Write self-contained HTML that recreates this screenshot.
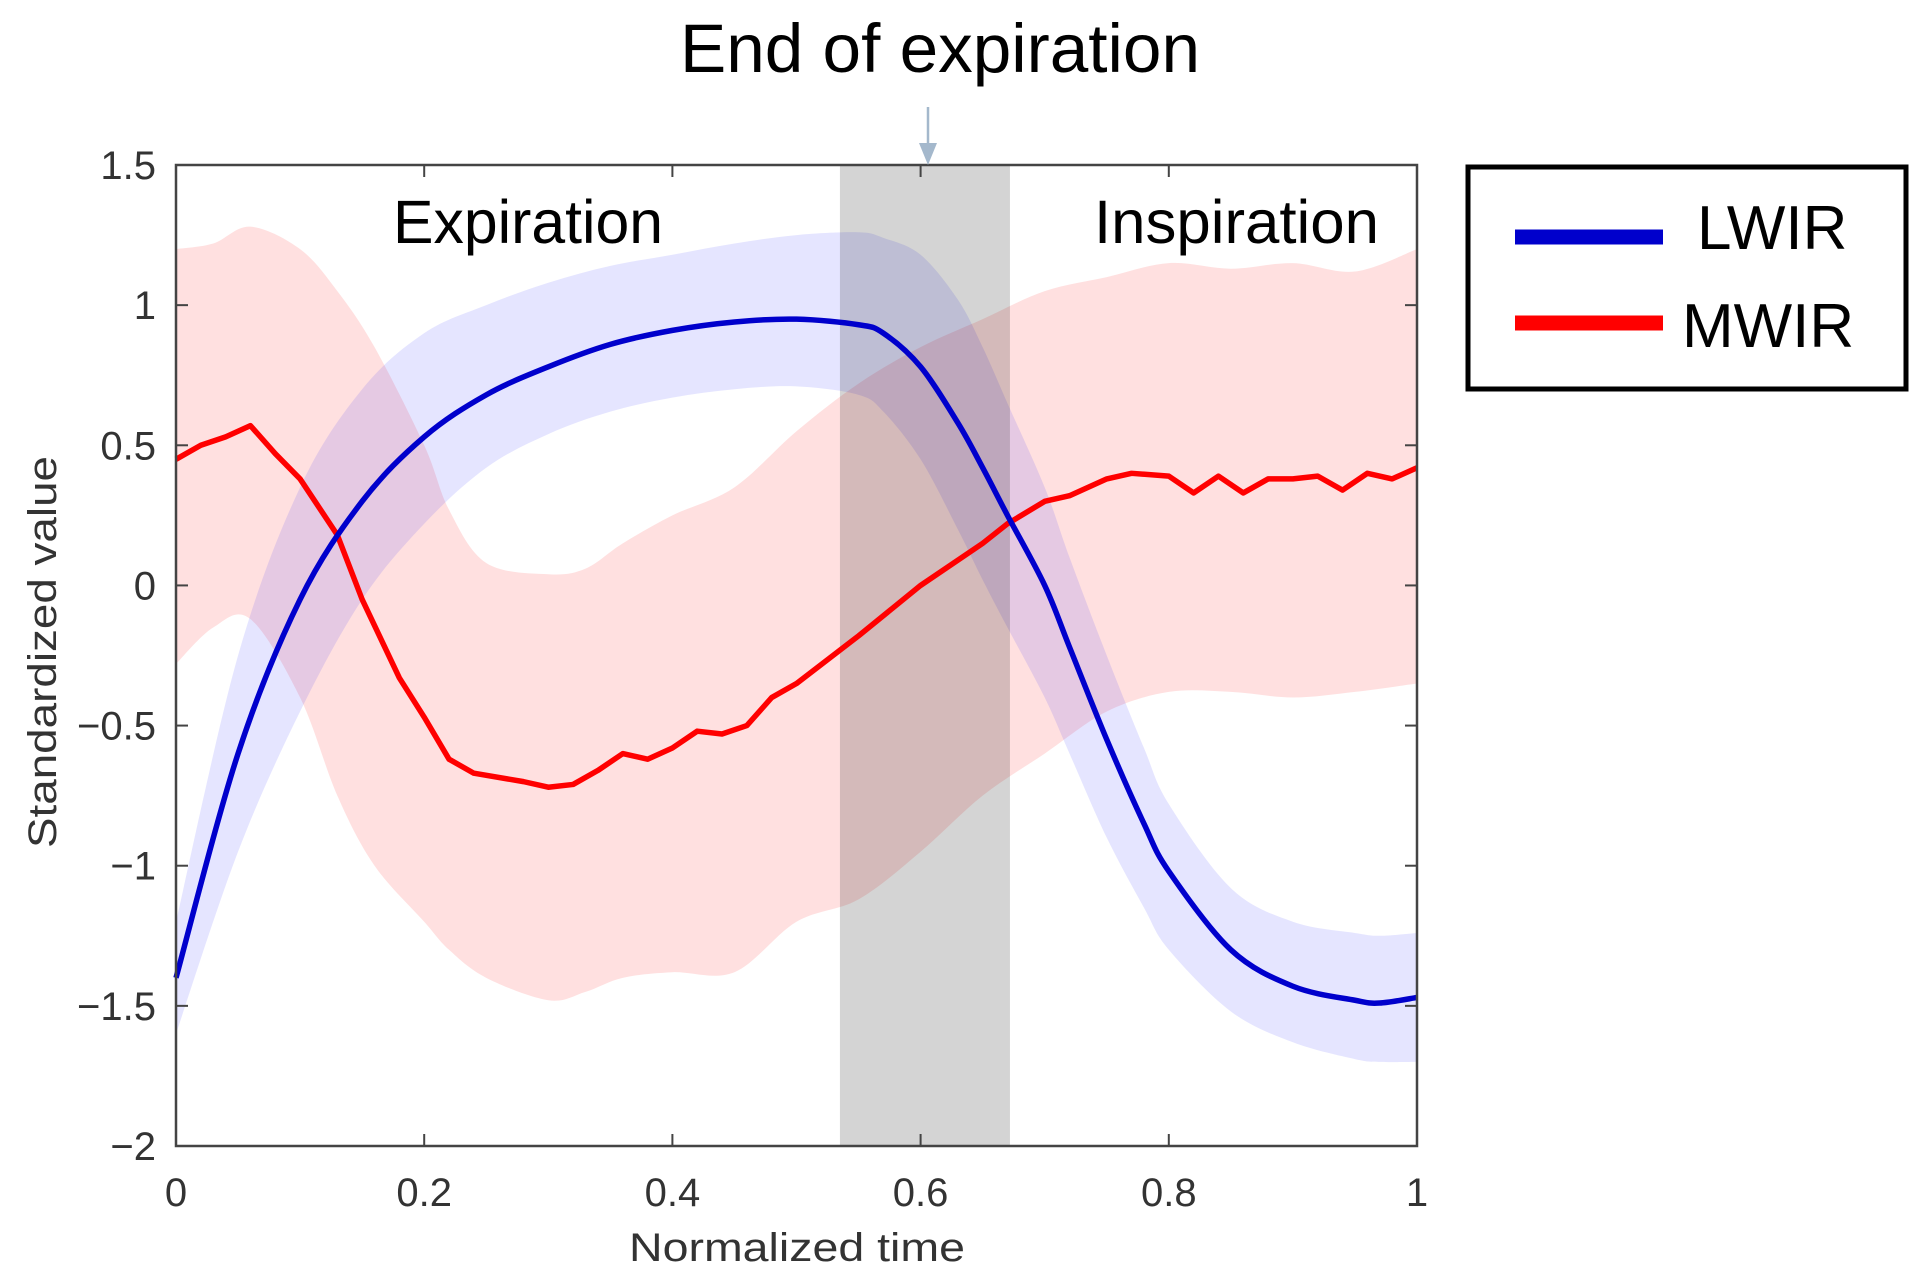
<!DOCTYPE html>
<html><head><meta charset="utf-8">
<style>
html,body{margin:0;padding:0;background:#fff;}
svg{display:block;font-family:"Liberation Sans",Arial,sans-serif;}
</style></head>
<body>
<svg id="chart" width="1927" height="1288" viewBox="0 0 1927 1288" xmlns="http://www.w3.org/2000/svg">
<g id="bands"></g>
<rect id="endband" fill="#000" fill-opacity="0.17"></rect>
<g id="lines"></g>
<g id="axes"></g>
<text x="940" y="72" font-size="69" text-anchor="middle" fill="#000" textLength="520" lengthAdjust="spacingAndGlyphs">End of expiration</text>
<line x1="928" y1="107" x2="928" y2="148" stroke="#a4b8cc" stroke-width="2.5"/>
<polygon points="919,143 937,143 928,165" fill="#a4b8cc"/>
<text x="393" y="243" font-size="61" fill="#000" textLength="270" lengthAdjust="spacingAndGlyphs">Expiration</text>
<text x="1094" y="243" font-size="61" fill="#000" textLength="285" lengthAdjust="spacingAndGlyphs">Inspiration</text>
<text transform="translate(56,652) rotate(-90)" font-size="40" text-anchor="middle" fill="#333" textLength="392" lengthAdjust="spacingAndGlyphs">Standardized value</text>
<text x="797" y="1261" font-size="40" text-anchor="middle" fill="#333" textLength="336" lengthAdjust="spacingAndGlyphs">Normalized time</text>
<g>
<rect x="1468" y="167" width="438" height="222" fill="#fff" stroke="#000" stroke-width="5"/>
<line x1="1515" y1="237" x2="1663" y2="237" stroke="#0000cc" stroke-width="15"/>
<text x="1697" y="249" font-size="62" fill="#000">LWIR</text>
<line x1="1515" y1="323" x2="1663" y2="323" stroke="#ff0000" stroke-width="15"/>
<text x="1682" y="347" font-size="62" fill="#000">MWIR</text>
</g>
</svg>
<script>
const blueX = [0,0.05,0.1,0.15,0.2,0.25,0.3,0.35,0.4,0.45,0.5,0.55,0.57,0.6,0.63,0.65,0.67,0.7,0.72,0.75,0.78,0.8,0.85,0.9,0.95,0.97,1];
const blueMean = [-1.4,-0.6,-0.05,0.3,0.53,0.68,0.78,0.86,0.91,0.94,0.95,0.93,0.9,0.78,0.58,0.42,0.25,0.0,-0.22,-0.55,-0.85,-1.02,-1.3,-1.43,-1.48,-1.49,-1.47];
const blueUpper = [-1.2,-0.25,0.35,0.7,0.9,1.0,1.08,1.14,1.18,1.22,1.25,1.26,1.24,1.18,1.02,0.85,0.65,0.35,0.1,-0.25,-0.58,-0.78,-1.08,-1.2,-1.24,-1.25,-1.24];
const blueLower = [-1.6,-0.95,-0.45,-0.05,0.22,0.42,0.54,0.62,0.67,0.7,0.71,0.68,0.62,0.45,0.2,0.02,-0.15,-0.4,-0.6,-0.9,-1.15,-1.3,-1.52,-1.63,-1.69,-1.7,-1.7];
const redX = [0,0.02,0.04,0.06,0.08,0.1,0.13,0.15,0.18,0.2,0.22,0.24,0.28,0.3,0.32,0.34,0.36,0.38,0.4,0.42,0.44,0.46,0.48,0.5,0.55,0.6,0.65,0.67,0.7,0.72,0.75,0.77,0.8,0.82,0.84,0.86,0.88,0.9,0.92,0.94,0.96,0.98,1];
const redMean = [0.45,0.5,0.53,0.57,0.47,0.38,0.18,-0.05,-0.33,-0.47,-0.62,-0.67,-0.7,-0.72,-0.71,-0.66,-0.6,-0.62,-0.58,-0.52,-0.53,-0.5,-0.4,-0.35,-0.18,0.0,0.15,0.22,0.3,0.32,0.38,0.4,0.39,0.33,0.39,0.33,0.38,0.38,0.39,0.34,0.4,0.38,0.42];
const redBandX = [0,0.03,0.06,0.1,0.13,0.16,0.2,0.22,0.25,0.3,0.33,0.36,0.4,0.45,0.5,0.55,0.6,0.65,0.7,0.75,0.8,0.85,0.9,0.95,1];
const redUpper = [1.2,1.22,1.28,1.2,1.05,0.85,0.5,0.27,0.08,0.04,0.06,0.15,0.25,0.35,0.55,0.72,0.85,0.95,1.05,1.1,1.15,1.13,1.15,1.12,1.2];
const redLower = [-0.28,-0.15,-0.12,-0.4,-0.75,-1.0,-1.2,-1.3,-1.4,-1.48,-1.45,-1.4,-1.38,-1.38,-1.2,-1.12,-0.95,-0.75,-0.6,-0.45,-0.38,-0.38,-0.4,-0.38,-0.35];
const xTicks = [0,0.2,0.4,0.6,0.8,1];
const xTickLabels = ["0","0.2","0.4","0.6","0.8","1"];
const yTicks = [1.5,1,0.5,0,-0.5,-1,-1.5,-2];
const yTickLabels = ["1.5","1","0.5","0","\u22120.5","\u22121","\u22121.5","\u22122"];
const endBand = [0.535,0.672];

const L=176,R=1417,T=165,B=1146;
const sx=v=>L+(v-0)/(1-0)*(R-L);
const sy=v=>T+(1.5-v)/(1.5+2)*(B-T);
const NS="http://www.w3.org/2000/svg";
function mk(tag,attrs,parent){const e=document.createElementNS(NS,tag);for(const k in attrs)e.setAttribute(k,attrs[k]);parent.appendChild(e);return e;}
function smooth(pts,move){
  let d=(move?"M":"L")+pts[0][0]+","+pts[0][1];
  for(let i=0;i<pts.length-1;i++){
    const p0=pts[Math.max(i-1,0)],p1=pts[i],p2=pts[i+1],p3=pts[Math.min(i+2,pts.length-1)];
    const c1=[p1[0]+(p2[0]-p0[0])/6,p1[1]+(p2[1]-p0[1])/6];
    const c2=[p2[0]-(p3[0]-p1[0])/6,p2[1]-(p3[1]-p1[1])/6];
    d+="C"+c1[0]+","+c1[1]+" "+c2[0]+","+c2[1]+" "+p2[0]+","+p2[1];
  }
  return d;
}
function bandPath(xs,up,lo){
  const u=xs.map((x,i)=>[sx(x),sy(up[i])]);
  const l=xs.map((x,i)=>[sx(x),sy(lo[i])]).reverse();
  return smooth(u,true)+smooth(l,false)+"Z";
}
const bands=document.getElementById('bands');
const rb=mk('path',{d:bandPath(redBandX,redUpper,redLower),fill:"#ff0000","fill-opacity":"0.12"},bands);


const bb=mk('path',{d:bandPath(blueX,blueUpper,blueLower),fill:"#0000ff","fill-opacity":"0.1"},bands);


const eb=document.getElementById('endband');
eb.setAttribute('x',sx(endBand[0]));eb.setAttribute('y',T);eb.setAttribute('width',sx(endBand[1])-sx(endBand[0]));eb.setAttribute('height',B-T);
const lines=document.getElementById('lines');
const rl=mk('polyline',{points:redX.map((x,i)=>sx(x)+","+sy(redMean[i])).join(" "),fill:"none",stroke:"#ff0000","stroke-width":"5.5","stroke-linejoin":"round"},lines);


const bl=mk('path',{d:smooth(blueX.map((x,i)=>[sx(x),sy(blueMean[i])]),true),fill:"none",stroke:"#0000cc","stroke-width":"5.5","stroke-linejoin":"round"},lines);


const axes=document.getElementById('axes');
const fr=mk('rect',{x:L,y:T,width:R-L,height:B-T,fill:"none",stroke:"#444","stroke-width":"2.5"},axes);


xTicks.forEach((v,i)=>{
  const x=sx(v);
  mk('line',{x1:x,y1:B,x2:x,y2:B-12,stroke:"#444","stroke-width":"2"},axes);
  mk('line',{x1:x,y1:T,x2:x,y2:T+12,stroke:"#444","stroke-width":"2"},axes);
  const t=mk('text',{x:x,y:B+60,"font-size":"40","text-anchor":"middle",fill:"#333"},axes);
  t.textContent=xTickLabels[i];
  
  
});
yTicks.forEach((v,i)=>{
  const y=sy(v);
  mk('line',{x1:L,y1:y,x2:L+12,y2:y,stroke:"#444","stroke-width":"2"},axes);
  mk('line',{x1:R,y1:y,x2:R-12,y2:y,stroke:"#444","stroke-width":"2"},axes);
  const t=mk('text',{x:L-20,y:y+14,"font-size":"40","text-anchor":"end",fill:"#333"},axes);
  t.textContent=yTickLabels[i];
  
  
});
</script>
</body></html>
